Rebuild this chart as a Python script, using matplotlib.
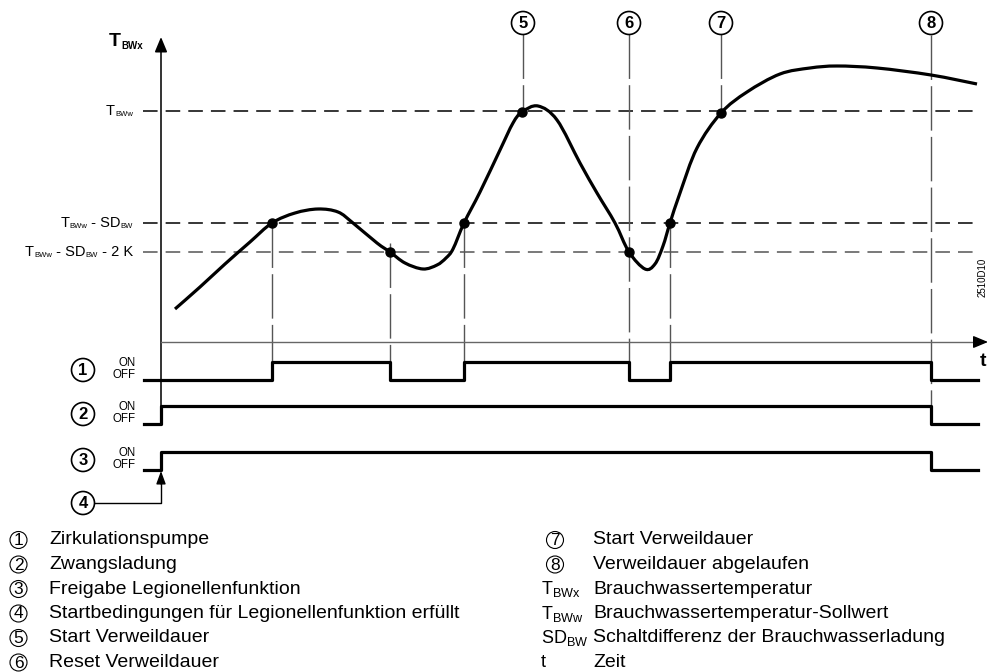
import matplotlib.pyplot as plt
from matplotlib.patches import Circle, PathPatch
from matplotlib.path import Path

plt.rcParams['font.family'] = ['Liberation Sans', 'DejaVu Sans']
plt.rcParams['mathtext.fontset'] = 'custom'
plt.rcParams['mathtext.rm'] = 'Liberation Sans'
plt.rcParams['mathtext.bf'] = 'Liberation Sans:bold'
plt.rcParams['lines.scale_dashes'] = False

# diagram coordinates (pixel units, y grows downward)
curve_t = [175, 200, 225, 250, 272, 295, 318, 338, 353, 377, 390,
           405, 423, 437, 446, 453, 464, 480, 500, 513, 522, 538,
           557, 580, 597, 615, 629, 645, 655, 663, 670, 680, 697, 721,
           747, 780, 810, 837, 877, 931, 977]
curve_T = [309, 287, 264, 242, 223, 213, 209, 212, 223, 243, 252,
           263, 269, 265, 258, 249, 223, 192, 150, 123, 112, 106,
           120, 163, 193, 223, 252, 269, 264, 246, 223, 193, 148, 113,
           92, 74, 68, 66, 68, 75, 84]

event_t = [272, 390, 464, 522, 629, 670, 721]
event_T = [223, 252, 223, 112, 252, 223, 113]

level_T = [111, 223, 252]
level_parts = [
    [('T', 0), ('BWw', 1)],
    [('T', 0), ('BWw', 1), (' - SD', 0), ('BW', 1)],
    [('T', 0), ('BWw', 1), (' - SD', 0), ('BW', 1), (' - 2 K', 0)],
]
level_colors = ['black', 'black', '#555555']

# on/off signals: switch times and states
sig_times = [
    [144, 272, 390, 464, 629, 670, 931, 978],
    [144, 161, 931, 978],
    [144, 161, 931, 978],
]
sig_states = [
    [0, 1, 0, 1, 0, 1, 0, 0],
    [0, 1, 0, 0],
    [0, 1, 0, 0],
]
sig_off_y = [380, 424, 470]
sig_names = ['1', '2', '3']

# marker lines: x, top, bottom
mark_x = [272, 390, 464, 523, 629, 670, 721, 931]
mark_top = [223, 243, 223, 34, 34, 223, 34, 35]
mark_bot = [362, 362, 362, 112, 362, 362, 113, 407]
top_nums = ['5', '6', '7', '8']
top_x = [523, 629, 721, 931]

legend_left = ['Zirkulationspumpe', 'Zwangsladung', 'Freigabe Legionellenfunktion',
               'Startbedingungen für Legionellenfunktion erfüllt',
               'Start Verweildauer', 'Reset Verweildauer']
legend_right_keys = ['7', '8', r'T$_{\mathrm{BWx}}$', r'T$_{\mathrm{BWw}}$',
                     r'SD$_{\mathrm{BW}}$', 't']
legend_right = ['Start Verweildauer', 'Verweildauer abgelaufen', 'Brauchwassertemperatur',
                'Brauchwassertemperatur-Sollwert',
                'Schaltdifferenz der Brauchwasserladung', 'Zeit']
legend_rows = [540, 564.5, 589, 613.5, 638, 662.5]


def circled(ax, x, y, num, r=11.5, size=12, bold=True, lw=1.2):
    ax.add_patch(Circle((x, y), r, fill=False, lw=lw, ec='black', zorder=5))
    ax.text(x, y + 0.5, num, ha='center', va='center', fontsize=size,
            fontweight='bold' if bold else 'normal', zorder=6)


def smooth_path(xs, ys):
    # catmull-rom through the read points, drawn as cubic bezier segments
    pts = list(zip(xs, ys))
    verts = [pts[0]]
    codes = [Path.MOVETO]
    for i in range(len(pts) - 1):
        p0 = pts[max(i - 1, 0)]
        p1 = pts[i]
        p2 = pts[i + 1]
        p3 = pts[min(i + 2, len(pts) - 1)]
        c1 = (p1[0] + (p2[0] - p0[0]) / 6, p1[1] + (p2[1] - p0[1]) / 6)
        c2 = (p2[0] - (p3[0] - p1[0]) / 6, p2[1] - (p3[1] - p1[1]) / 6)
        verts += [c1, c2, p2]
        codes += [Path.CURVE4] * 3
    return Path(verts, codes)


fig = plt.figure(figsize=(9.98, 6.72), dpi=100)
ax = fig.add_axes([0, 0, 1, 1])
ax.set_xlim(0, 998)
ax.set_ylim(672, 0)
ax.axis('off')
renderer = fig.canvas.get_renderer()


def label_right(x, y, parts, big=10.5, small=5.5):
    # place text pieces right to left, subscripts smaller and lowered
    for txt, sub in reversed(parts):
        t = ax.text(x, y + (3.5 if sub else 0), txt, ha='right', va='center',
                    fontsize=small if sub else big)
        x -= t.get_window_extent(renderer).width


# threshold dashed lines
for yv, parts, col in zip(level_T, level_parts, level_colors):
    ax.plot([143, 980], [yv, yv], color=col, lw=1.1, dashes=(10.5, 5.8))
    label_right(133, yv, parts)

# vertical marker lines
for xv, y0, y1 in zip(mark_x, mark_top, mark_bot):
    ax.plot([xv, xv], [y0, y1], color='#555555', lw=1.0, dashes=(32, 4.5))

# axes with arrows
ax.plot([161, 161], [48, 407], color='#333333', lw=1.4)
ax.annotate('', xy=(161, 37), xytext=(161, 50),
            arrowprops=dict(arrowstyle='-|>,head_length=0.6,head_width=0.25',
                            mutation_scale=15, color='black', lw=1.2, shrinkA=0, shrinkB=0))
ax.plot([161, 978], [342, 342], color='#666666', lw=1.0)
ax.annotate('', xy=(988, 342), xytext=(975, 342),
            arrowprops=dict(arrowstyle='-|>,head_length=0.6,head_width=0.25',
                            mutation_scale=15, color='black', lw=1.0, shrinkA=0, shrinkB=0))
ax.text(109, 46, 'T', fontsize=14, fontweight='bold', ha='left', va='baseline')
ax.text(121, 49, 'BWx', fontsize=7, fontweight='bold', ha='left', va='baseline')
ax.text(983, 362, 't', fontsize=14, fontweight='bold', ha='center', va='center')

# temperature curve
ax.add_patch(PathPatch(smooth_path(curve_t, curve_T), fill=False, ec='black',
                       lw=2.3, zorder=4))
ax.plot(event_t, event_T, 'o', color='black', ms=6.5, zorder=5)

# on/off signals
for times, states, off_y, nm in zip(sig_times, sig_states, sig_off_y, sig_names):
    ys = [off_y - 18 * s for s in states]
    ax.plot(times, ys, drawstyle='steps-post', color='black', lw=2.3, zorder=4)
    circled(ax, 83, off_y - 10, nm)
    ax.text(136, off_y - 17, 'ON', ha='right', va='center', fontsize=8.3)
    ax.text(136, off_y - 5, 'OFF', ha='right', va='center', fontsize=8.3)

# start condition arrow
circled(ax, 83, 503, '4')
ax.plot([95, 161, 161], [503, 503, 482], color='black', lw=1.0)
ax.annotate('', xy=(161, 471), xytext=(161, 484),
            arrowprops=dict(arrowstyle='-|>,head_length=0.6,head_width=0.22',
                            mutation_scale=13, color='black', lw=1.0, shrinkA=0, shrinkB=0))

for xv, nm in zip(top_x, top_nums):
    circled(ax, xv, 23, nm)

ax.text(983, 277, '2510D10', rotation=90, ha='center', va='center', fontsize=7)

# legend
for i, (yv, txt) in enumerate(zip(legend_rows, legend_left)):
    circled(ax, 18.5, yv, str(i + 1), r=8.5, size=12.5, bold=False, lw=0.8)
    ax.text(49, yv, txt, ha='left', va='center', fontsize=14)
for yv, key, txt in zip(legend_rows, legend_right_keys, legend_right):
    if key.isdigit():
        circled(ax, 555, yv, key, r=8.5, size=12.5, bold=False, lw=0.8)
    else:
        ax.text(541, yv, key, ha='left', va='center', fontsize=13)
    ax.text(593, yv, txt, ha='left', va='center', fontsize=14)

fig.savefig('out.png', dpi=100)
